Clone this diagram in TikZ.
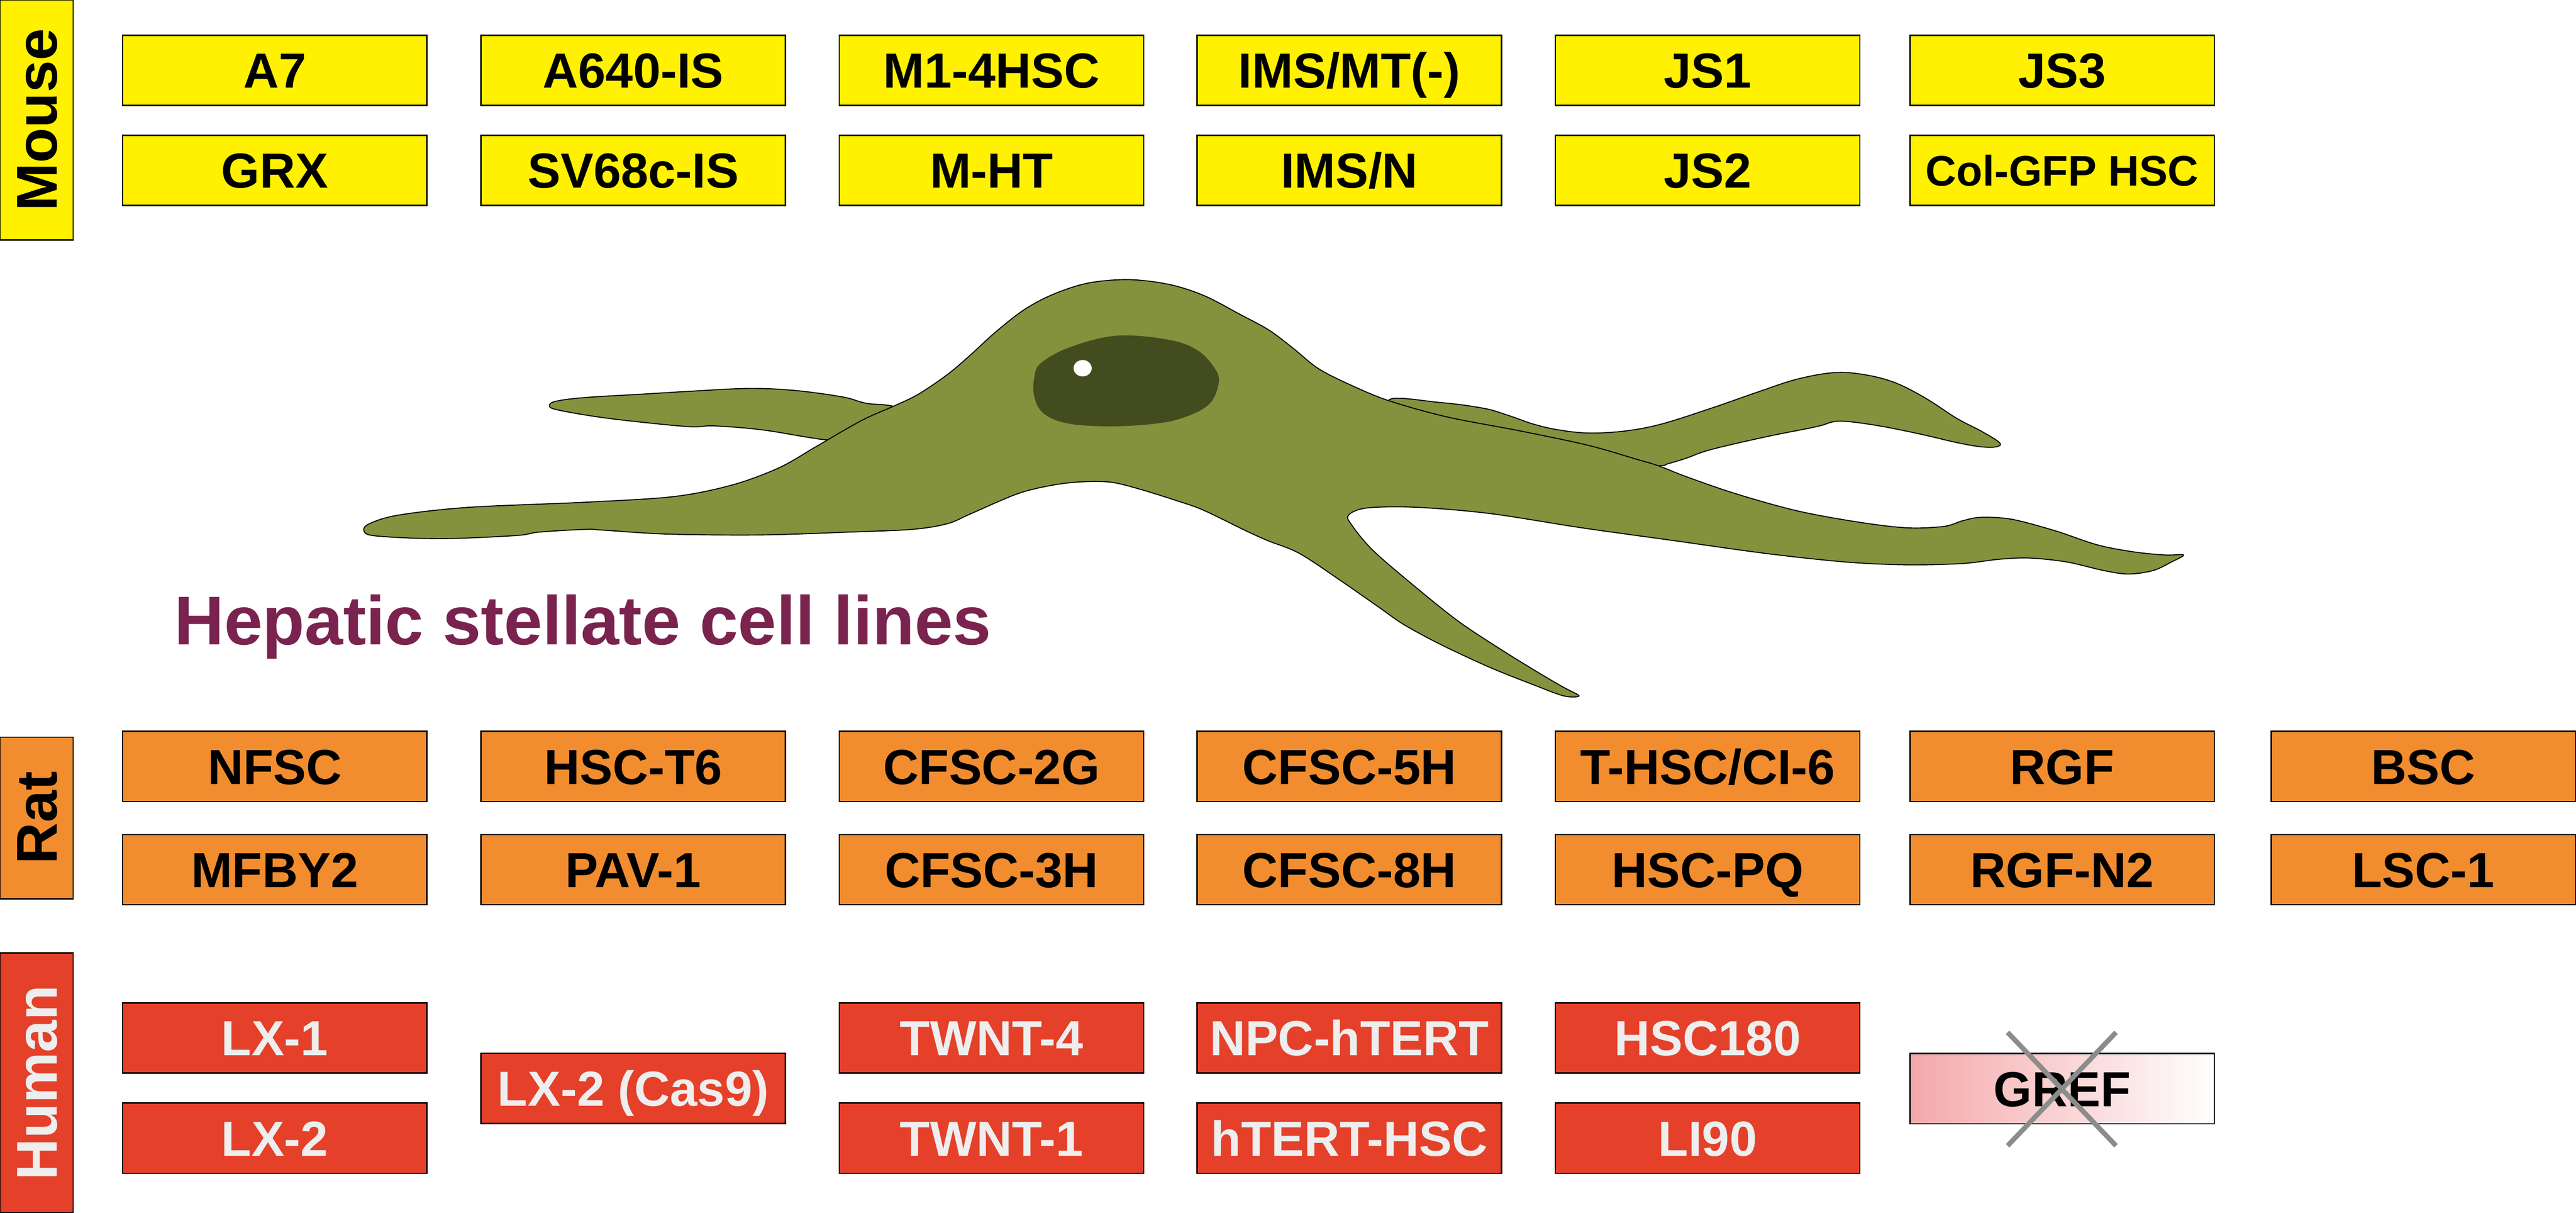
\documentclass[tikz,border=0pt]{standalone}
\usepackage{fontspec}
\setmainfont{Liberation Sans}
\definecolor{yellowC}{RGB}{255,241,0}
\definecolor{orangeC}{RGB}{241,141,47}
\definecolor{redC}{RGB}{229,64,42}
\definecolor{greenC}{RGB}{132,145,61}
\definecolor{nucC}{RGB}{67,76,31}
\definecolor{titleC}{RGB}{122,35,78}
\definecolor{pinkC}{RGB}{244,168,170}
\definecolor{grayX}{RGB}{140,140,140}
\definecolor{humanT}{RGB}{238,238,238}
\begin{document}
\begin{tikzpicture}[x=1pt,y=-1pt,
  cbox/.style={draw=black, line width=0.8pt, minimum width=185.3pt, minimum height=42.7pt,
    inner sep=0pt, anchor=north west, font=\bfseries\fontsize{30}{36}\selectfont,
    text height=21.5pt, text depth=0pt},
  mbox/.style={cbox, fill=yellowC},
  rbox/.style={cbox, fill=orangeC},
  hbox/.style={cbox, fill=redC, text=humanT},
  tagbox/.style={draw=black, line width=0.8pt, inner sep=0pt, rotate=90,
    minimum height=44.5pt, font=\bfseries\fontsize{35}{40}\selectfont,
    text height=25pt, text depth=0pt},
  cellfill/.style={fill=greenC, draw=black, line width=0.6pt},
  xline/.style={draw=grayX, line width=3pt, line cap=butt}
]
\useasboundingbox (0,0) rectangle (1568,737.7);

% ---------- species labels ----------
\node[tagbox, fill=yellowC, minimum width=145.9pt] (mouse) at (22.25,72.95) {Mouse};
\node[tagbox, fill=orangeC, minimum width=98.3pt] (rat) at (22.25,497.55) {Rat};
\node[tagbox, fill=redC, text=humanT, minimum width=158.1pt] (human) at (22.25,658.65) {Human};

% ---------- mouse ----------
\node[mbox] (a7)    at (74.2,21.0)   {A7};
\node[mbox] (a640)  at (292.4,21.0)  {A640-IS};
\node[mbox] (m14)   at (510.5,21.0)  {M1-4HSC};
\node[mbox] (imsmt) at (728.3,21.0)  {IMS/MT(-)};
\node[mbox] (js1)   at (946.4,21.0)  {JS1};
\node[mbox] (js3)   at (1162.2,21.0) {JS3};
\node[mbox] (grx)   at (74.2,81.9)   {GRX};
\node[mbox] (sv68)  at (292.4,81.9)  {SV68c-IS};
\node[mbox] (mht)   at (510.5,81.9)  {M-HT};
\node[mbox] (imsn)  at (728.3,81.9)  {IMS/N};
\node[mbox] (js2)   at (946.4,81.9)  {JS2};
\node[mbox, font=\bfseries\fontsize{26}{31}\selectfont, text height=18.6pt] (colgfp) at (1162.2,81.9) {Col-GFP HSC};

% ---------- rat ----------
\node[rbox] (nfsc)   at (74.2,444.5)   {NFSC};
\node[rbox] (hsct6)  at (292.4,444.5)  {HSC-T6};
\node[rbox] (cf2g)   at (510.5,444.5)  {CFSC-2G};
\node[rbox] (cf5h)   at (728.3,444.5)  {CFSC-5H};
\node[rbox] (thsc)   at (946.4,444.5)  {T-HSC/CI-6};
\node[rbox] (rgf)    at (1162.2,444.5) {RGF};
\node[rbox] (bsc)    at (1382.0,444.5) {BSC};
\node[rbox] (mfby)   at (74.2,507.3)   {MFBY2};
\node[rbox] (pav)    at (292.4,507.3)  {PAV-1};
\node[rbox] (cf3h)   at (510.5,507.3)  {CFSC-3H};
\node[rbox] (cf8h)   at (728.3,507.3)  {CFSC-8H};
\node[rbox] (hscpq)  at (946.4,507.3)  {HSC-PQ};
\node[rbox] (rgfn2)  at (1162.2,507.3) {RGF-N2};
\node[rbox] (lsc1)   at (1382.0,507.3) {LSC-1};

% ---------- human ----------
\node[hbox] (lx1)    at (74.2,609.7)   {LX-1};
\node[hbox] (lx2)    at (74.2,670.6)   {LX-2};
\node[hbox] (lx2c)   at (292.4,640.3)  {LX-2 (Cas9)};
\node[hbox] (twnt4)  at (510.5,609.7)  {TWNT-4};
\node[hbox] (twnt1)  at (510.5,670.6)  {TWNT-1};
\node[hbox] (npc)    at (728.3,609.7)  {NPC-hTERT};
\node[hbox] (htert)  at (728.3,670.6)  {hTERT-HSC};
\node[hbox] (hsc180) at (946.4,609.7)  {HSC180};
\node[hbox] (li90)   at (946.4,670.6)  {LI90};
\node[cbox, left color=pinkC, right color=white, draw=black] (gref) at (1162.2,640.5) {GREF};
\draw[xline] (1222,628) -- (1288,697);
\draw[xline] (1288,628) -- (1222,697);

% ---------- cell ----------
% left back arm
\draw[cellfill] plot[smooth cycle, tension=0.6] coordinates {
 (545.0,247.5) (527.2,245.3) (513.0,241.5) (484.5,237.6) (456.1,236.3) (420.5,238.0)
 (392.1,239.7) (356.6,241.8) (338.8,244.0) (334.5,246.6) (338.8,249.2) (363.7,253.6)
 (392.1,257.0) (420.5,259.6) (434.8,259.1) (463.2,261.4) (491.6,266.0) (505.8,267.8)
 (540,270) (560,256)};
% right back arm
\draw[cellfill] plot[smooth cycle, tension=0.6] coordinates {
 (845.2,243.7) (877.0,244.9) (903.2,248.4) (918.1,252.7) (933.1,257.9) (948.0,261.4)
 (966.7,263.4) (989.1,262.2) (1011.5,257.9) (1041.4,248.4) (1071.3,238.0) (1093.7,230.7)
 (1116.2,226.7) (1134.8,227.9) (1153.5,232.8) (1172.2,242.3) (1190.9,254.4) (1205.8,262.2)
 (1217.0,269.2) (1215.2,271.8) (1205.8,271.8) (1190.9,269.2) (1168.5,264.0) (1142.3,258.8)
 (1119.9,256.2) (1108.7,258.8) (1101.2,260.5) (1075.0,265.7) (1041.4,273.5) (1026.5,278.7)
 (1015.3,282.1) (1007.8,283.5) (960,286) (870,266)};
% main body
\draw[cellfill] plot[smooth cycle, tension=0.55] coordinates {
 (221.5,322.8) (225.0,318.5) (242.8,313.3) (285.5,308.6) (356.6,305.5) (409.9,302.1)
 (445.4,295.1) (473.9,284.7) (495.2,272.6) (513.0,262.2) (527.2,254.4) (545.0,246.6)
 (559.2,239.7) (577.0,227.6) (591.2,215.5) (605.4,202.5) (623.1,188.6) (640.9,179.1)
 (662.3,172.2) (687.1,170.1) (712.0,173.1) (733.3,180.0) (754.7,191.2) (772.4,200.8)
 (787.3,212.0) (802.3,224.1) (821.0,233.7) (845.2,243.7) (880.7,253.6) (925.6,262.2)
 (966.7,270.9) (996.6,279.5) (1009.6,283.4) (1026.5,290.0) (1056.4,300.3) (1093.7,310.7)
 (1131.1,317.6) (1161.0,321.1) (1183.4,320.2) (1194.6,316.8) (1205.8,314.7) (1224.6,315.9)
 (1250.7,322.8) (1276.8,331.5) (1299.3,335.8) (1317.9,337.6) (1329.1,337.6) (1321.7,341.9)
 (1310.5,347.1) (1295.5,349.2) (1280.6,347.1) (1258.2,341.9) (1235.7,339.5) (1217.0,340.2)
 (1194.6,342.8) (1161.0,343.6) (1123.6,341.9) (1075.0,336.7) (1019.0,328.9) (962.9,321.1)
 (906.9,312.4) (862.1,308.6) (832.2,309.0) (820.9,313.3) (822.8,319.4) (835.9,335.0)
 (862.1,357.5) (888.2,378.3) (914.4,395.6) (936.8,409.4) (951.7,418.1) (961.1,423.3)
 (951.7,423.3) (933.0,416.4) (906.9,406.0) (877.0,392.1) (854.6,380.0) (839.6,369.6)
 (817.2,354.0) (791.0,336.7) (771.7,328.9) (758.2,322.8) (733.3,310.7) (719.1,305.5)
 (694.2,297.7) (676.5,293.4) (658.7,293.1) (640.9,295.1) (619.6,300.3) (591.2,312.4)
 (576.9,318.5) (555.6,322.0) (516.5,323.7) (463.2,325.4) (406.3,324.9) (367.2,322.5)
 (356.6,322.0) (328.1,323.7) (313.9,325.8) (267.7,327.7) (228.6,326.0)};
% nucleus
\fill[nucC] plot[smooth cycle, tension=0.6] coordinates {
 (680.0,204.2) (712.0,206.8) (729.8,213.7) (740.5,225.9) (741.5,234.5) (736.9,244.9)
 (726.2,251.8) (708.5,257.0) (680.0,259.3) (651.6,257.9) (635.6,251.8) (629.6,241.5)
 (629.6,229.3) (633.8,220.7) (651.6,211.1)};
\fill[white] (659,224) ellipse [x radius=5.5pt, y radius=5pt];

% ---------- title ----------
\node[anchor=base west, inner sep=0pt, text=titleC, font=\bfseries\fontsize{42}{50}\selectfont] (title) at (106,392) {Hepatic stellate cell lines};
\end{tikzpicture}
\end{document}
